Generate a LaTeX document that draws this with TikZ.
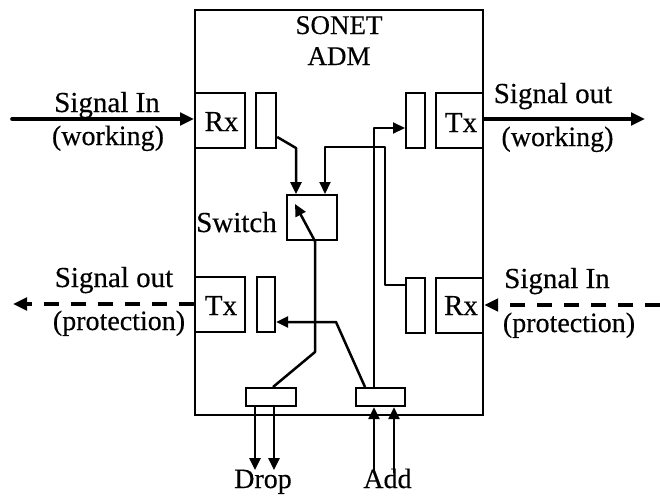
\documentclass[tikz,border=0pt]{standalone}
\usepackage{fontspec}
\setmainfont[FakeBold=0.35]{Liberation Serif}
\usetikzlibrary{arrows.meta,positioning}
\tikzset{
  pane/.style={draw,line width=2.2pt,minimum width=#1,inner sep=0pt,anchor=north west},
  tag/.style={font=\fontsize{29}{30}\selectfont,inner sep=0pt,anchor=base},
  small tag/.style={font=\fontsize{28}{30}\selectfont,inner sep=0pt,anchor=base},
  title tag/.style={font=\fontsize{27}{30}\selectfont,inner sep=0pt,anchor=base},
  wire/.style={line width=2.5pt,line join=round},
  arrowed/.style={wire,-{Triangle[length=12pt,width=11pt]}},
  bigarrow/.style={line width=3.6pt,line cap=round,-{Triangle[length=14pt,width=12.5pt]}},
  dashline/.style={bigarrow,line cap=butt,dash pattern=on 15pt off 12pt},
}
\begin{document}
\begin{tikzpicture}[x=1pt,y=-1pt]
\useasboundingbox (0,0) rectangle (660,498);
\node[pane=288pt,minimum height=405pt] (adm) at (194,9) {};
\node[title tag] (title) at (339,34) {SONET};
\node[title tag] (title2) at (339,65) {ADM};
\node[pane=50pt,minimum height=55pt] (rxa) at (194,92) {};
\node[tag] at (221.5,131) {Rx};
\node[pane=20pt,minimum height=55pt] (bufa) at (255,92) {};
\node[pane=19pt,minimum height=55pt] (bufb) at (405,92) {};
\node[pane=47pt,minimum height=55pt] (txa) at (435,92) {};
\node[tag] at (461,132) {Tx};
\node[pane=50pt,minimum height=45pt] (sw) at (286,194) {};
\node[tag,anchor=base east] (swl) at (277,232) {Switch};
\node[pane=50pt,minimum height=55pt] (txb) at (194,276) {};
\node[tag] at (221,315) {Tx};
\node[pane=18pt,minimum height=55pt] (bufc) at (256,276) {};
\node[pane=19pt,minimum height=55pt] (bufd) at (405,277) {};
\node[pane=47pt,minimum height=55pt] (rxb) at (435,277) {};
\node[tag] at (461,315) {Rx};
\node[pane=50pt,minimum height=18pt] (drop) at (245,387) {};
\node[pane=49pt,minimum height=18pt] (addb) at (355,387) {};
\node[small tag] (dropl) at (263,488) {Drop};
\node[small tag] (addl) at (387.5,488) {Add};
% external signals
\coordinate (inw) at (12,119);
\coordinate (outw) at (645,119);
\coordinate (outp) at (13,304);
\coordinate (inp) at (660,305);
\draw[bigarrow] (inw) -- (rxa.west |- inw);
\draw[bigarrow] (txa.east |- outw) -- (outw);
\draw[dashline] (txb.west |- outp) -- (outp);
\draw[dashline] (inp) -- (rxb.east |- inp);
\node[tag] at (107,112) {Signal In};
\node[small tag] at (108,145) {(working)};
\node[tag] at (553,103) {Signal out};
\node[small tag] at (557.5,146) {(working)};
\node[tag] at (114,287) {Signal out};
\node[small tag] at (119,330) {(protection)};
\node[tag] at (557,288) {Signal In};
\node[small tag] at (569,332) {(protection)};
% inner connectors
\draw[arrowed] (bufa.east |- 0,137) -- (296,148) -- (sw.north -| 296,0);
\draw[arrowed,line width=2pt] (bufd.west |- 0,285) -- (385,285) -- (385,147) -- (325,147) -- (sw.north -| 325,0);
\draw[arrowed,line width=2pt] (addb.north -| 374,0) -- (374,128) -- (bufb.west |- 0,128);
\draw[wire] (sw.south -| 315,0) -- (315,352) -- (drop.north -| 273,0);
\draw[arrowed] (sw.south -| 315,0) -- (295,204);
\draw[arrowed] (addb.north -| 365,0) -- (336,322) -- (bufc.east |- 0,322);
% drop and add
\draw[arrowed] (drop.south -| 255,0) -- (255,470);
\draw[arrowed] (drop.south -| 274,0) -- (274,470);
\draw[arrowed] (374,473) -- (addb.south -| 374,0);
\draw[arrowed] (394,473) -- (addb.south -| 394,0);
\end{tikzpicture}
\end{document}
